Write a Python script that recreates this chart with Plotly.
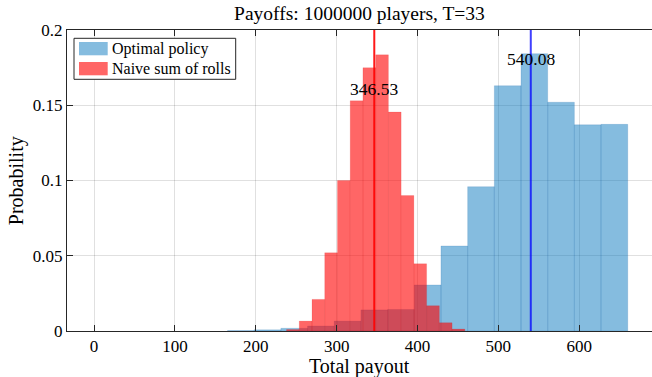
import plotly.graph_objects as go

# ---- data ----
blue_edges = [165, 198, 231, 264, 297, 330, 363, 396, 429, 462, 495, 528, 561, 594, 627, 660]
blue_probs = [0.0003, 0.0008, 0.0018, 0.0033, 0.0066, 0.0140, 0.0143, 0.0306,
              0.0565, 0.0959, 0.1630, 0.1843, 0.1520, 0.1370, 0.1373]

red_edges = [238, 253.75, 269.5, 285.25, 301, 316.75, 332.5, 348.25, 364,
             379.75, 395.5, 411.25, 427, 442.75, 458.5]
red_probs = [0.0010, 0.0066, 0.0210, 0.0520, 0.1000, 0.1530, 0.1750, 0.1835,
             0.1455, 0.0900, 0.0447, 0.0168, 0.0055, 0.0013]

mean_optimal = 540.08
mean_naive = 346.53
label_y_optimal = 0.1806
label_y_naive = 0.1606

series_names = ["Optimal policy", "Naive sum of rolls"]
x_ticks = [0, 100, 200, 300, 400, 500, 600]
y_ticks = [0, 0.05, 0.1, 0.15, 0.2]
y_tick_text = ["0", "0.05", "0.1", "0.15", "0.2"]

BLUE = "rgba(0,114,189,0.48)"
RED = "rgba(255,0,0,0.6)"
FONT = "Liberation Serif"
AX = "#262626"


def centers_widths(edges):
    c = [(edges[i] + edges[i + 1]) / 2 for i in range(len(edges) - 1)]
    w = [edges[i + 1] - edges[i] for i in range(len(edges) - 1)]
    return c, w


bc, bw = centers_widths(blue_edges)
rc, rw = centers_widths(red_edges)

fig = go.Figure()
fig.add_trace(go.Bar(x=bc, y=blue_probs, width=bw, marker=dict(color=BLUE, line=dict(width=0.6, color="rgba(0,90,160,0.25)")),
                     showlegend=False, hoverinfo="skip"))
fig.add_trace(go.Bar(x=rc, y=red_probs, width=rw, marker=dict(color=RED, line=dict(width=0.6, color="rgba(200,0,0,0.2)")),
                     showlegend=False, hoverinfo="skip"))
fig.add_trace(go.Scatter(x=[mean_naive, mean_naive], y=[0, 0.2], mode="lines",
                         line=dict(color="rgba(255,0,0,0.9)", width=2), showlegend=False, hoverinfo="skip"))
fig.add_trace(go.Scatter(x=[mean_optimal, mean_optimal], y=[0, 0.2], mode="lines",
                         line=dict(color="rgba(0,0,255,0.75)", width=2), showlegend=False, hoverinfo="skip"))

fig.add_annotation(x=mean_naive, y=label_y_naive, text=f"{mean_naive:.2f}", showarrow=False,
                   xanchor="center", yanchor="middle", font=dict(family=FONT, size=17.5, color="black"))
fig.add_annotation(x=mean_optimal, y=label_y_optimal, text=f"{mean_optimal:.2f}", showarrow=False,
                   xanchor="center", yanchor="middle", font=dict(family=FONT, size=17.5, color="black"))

# axis titles
fig.add_annotation(x=0.5, y=-0.118, xref="paper", yref="paper", text="Total payout", showarrow=False,
                   xanchor="center", yanchor="middle", font=dict(family=FONT, size=20, color="black"))
fig.add_annotation(x=-0.086, y=0.5, xref="paper", yref="paper", text="Probability", showarrow=False,
                   textangle=-90, xanchor="center", yanchor="middle", font=dict(family=FONT, size=20, color="black"))

# manual legend (paper coords)
L, T_, PW, PH = 67, 30, 585, 301
def px(xp):
    return (xp - L) / PW
def py(yp):
    return (T_ + PH - yp) / PH

fig.add_shape(type="rect", xref="paper", yref="paper", x0=px(74), x1=px(235.7), y0=py(79.3), y1=py(38.3),
              line=dict(color=AX, width=1), fillcolor="white", layer="above")
fig.add_shape(type="rect", xref="paper", yref="paper", x0=px(79), x1=px(107.7), y0=py(55.3), y1=py(42),
              line=dict(width=0), fillcolor=BLUE, layer="above")
fig.add_shape(type="rect", xref="paper", yref="paper", x0=px(79), x1=px(107.7), y0=py(75.3), y1=py(62),
              line=dict(width=0), fillcolor=RED, layer="above")
fig.add_annotation(x=px(109.5), y=py(48.7), xref="paper", yref="paper", text=series_names[0], showarrow=False,
                   xanchor="left", yanchor="middle", font=dict(family=FONT, size=16, color="black"))
fig.add_annotation(x=px(109.5), y=py(68.7), xref="paper", yref="paper", text=series_names[1], showarrow=False,
                   xanchor="left", yanchor="middle", font=dict(family=FONT, size=16, color="black"))

fig.update_layout(
    width=652, height=377,
    margin=dict(l=L, r=0, t=T_, b=46),
    paper_bgcolor="white", plot_bgcolor="white",
    barmode="overlay", bargap=0,
    title=dict(text="Payoffs: 1000000 players, T=33", x=0.5, xref="paper", xanchor="center",
               y=1 - 13 / 377, yref="container", yanchor="middle",
               font=dict(family=FONT, size=19.5, color="black")),
    font=dict(family=FONT, color="black"),
)
fig.update_xaxes(range=[-33.5, 690], tickvals=x_ticks, ticks="inside", ticklen=6, tickwidth=1, tickcolor=AX,
                 showline=True, linecolor=AX, linewidth=1, mirror="ticks",
                 showgrid=True, gridcolor="rgba(0,0,0,0.12)", gridwidth=1, zeroline=False,
                 tickfont=dict(family=FONT, size=17, color="black"))
fig.update_yaxes(range=[0, 0.2], tickvals=y_ticks, ticktext=y_tick_text, ticks="inside", ticklen=6, tickwidth=1,
                 tickcolor=AX, showline=True, linecolor=AX, linewidth=1, mirror=False,
                 showgrid=True, gridcolor="rgba(0,0,0,0.12)", gridwidth=1, zeroline=False,
                 tickfont=dict(family=FONT, size=17, color="black"))

fig.write_html("out.html", config={"displayModeBar": False, "staticPlot": True},
               post_script="document.body.style.margin='0';document.body.style.overflow='hidden';")
